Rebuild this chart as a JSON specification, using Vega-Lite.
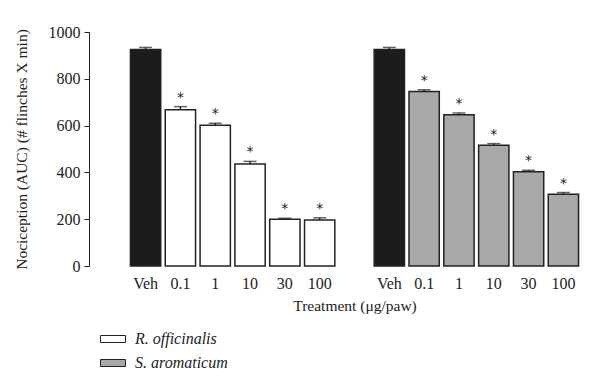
{
  "$schema": "https://vega.github.io/schema/vega-lite/v6.json",
  "width": 469,
  "height": 234,
  "autosize": {"type": "none"},
  "padding": {"left": 120, "top": 32, "right": 11, "bottom": 125},
  "background": "white",
  "config": {
    "view": {"stroke": null},
    "font": "Liberation Serif",
    "axis": {"labelFont": "Liberation Serif", "titleFont": "Liberation Serif", "labelColor": "#222", "titleColor": "#222", "titleFontWeight": "normal", "labelFontSize": 16, "titleFontSize": 15.5},
    "legend": {"labelFont": "Liberation Serif", "labelColor": "#222"}
  },
  "data": {
    "values": [
      {"key": "R|Veh", "series": "Veh", "value": 925, "hi": 934, "sig": ""},
      {"key": "R|0.1", "series": "R. officinalis", "value": 668, "hi": 681, "sig": "*"},
      {"key": "R|1", "series": "R. officinalis", "value": 602, "hi": 610, "sig": "*"},
      {"key": "R|10", "series": "R. officinalis", "value": 436, "hi": 447, "sig": "*"},
      {"key": "R|30", "series": "R. officinalis", "value": 200, "hi": 204, "sig": "*"},
      {"key": "R|100", "series": "R. officinalis", "value": 197, "hi": 206, "sig": "*"},
      {"key": "S|Veh", "series": "Veh", "value": 925, "hi": 934, "sig": ""},
      {"key": "S|0.1", "series": "S. aromaticum", "value": 746, "hi": 753, "sig": "*"},
      {"key": "S|1", "series": "S. aromaticum", "value": 646, "hi": 654, "sig": "*"},
      {"key": "S|10", "series": "S. aromaticum", "value": 516, "hi": 523, "sig": "*"},
      {"key": "S|30", "series": "S. aromaticum", "value": 403, "hi": 409, "sig": "*"},
      {"key": "S|100", "series": "S. aromaticum", "value": 307, "hi": 314, "sig": "*"}
    ]
  },
  "encoding": {
    "x": {
      "field": "key",
      "type": "nominal",
      "scale": {
        "domain": ["R|Veh", "R|0.1", "R|1", "R|10", "R|30", "R|100", "gap", "S|Veh", "S|0.1", "S|1", "S|10", "S|30", "S|100"],
        "paddingInner": 0.13,
        "paddingOuter": 0.3
      },
      "axis": {
        "title": "Treatment (μg/paw)",
        "labelAngle": 0,
        "domain": false,
        "ticks": false,
        "labelPadding": 9,
        "titlePadding": 7,
        "labelExpr": "datum.value == 'gap' ? '' : split(datum.value, '|')[1]"
      }
    }
  },
  "layer": [
    {
      "mark": {"type": "bar", "stroke": "#222", "strokeWidth": 1.5},
      "encoding": {
        "y": {
          "field": "value",
          "type": "quantitative",
          "scale": {"domain": [0, 1000]},
          "axis": {
            "title": "Nociception (AUC) (# flinches X min)",
            "values": [0, 200, 400, 600, 800, 1000],
            "format": "d",
            "grid": false,
            "offset": 31,
            "tickSize": 5,
            "tickColor": "#222",
            "domainColor": "#222",
            "labelPadding": 4,
            "titlePadding": 19
          }
        },
        "fill": {
          "field": "series",
          "type": "nominal",
          "scale": {"domain": ["R. officinalis", "S. aromaticum", "Veh"], "range": ["#ffffff", "#a8a8a8", "#1c1c1c"]},
          "legend": {
            "values": ["R. officinalis", "S. aromaticum"],
            "title": null,
            "orient": "none",
            "legendX": -20,
            "legendY": 294,
            "direction": "vertical",
            "symbolType": "M-1,-0.28H1V0.28H-1Z",
            "symbolSize": 625,
            "symbolStrokeColor": "#222",
            "symbolStrokeWidth": 1,
            "labelFontStyle": "italic",
            "labelFontSize": 16,
            "labelOffset": 9,
            "rowPadding": 3
          }
        }
      }
    },
    {
      "mark": {"type": "rule", "color": "#222", "strokeWidth": 1.5},
      "encoding": {
        "y": {"field": "value", "type": "quantitative"},
        "y2": {"field": "hi"}
      }
    },
    {
      "mark": {"type": "tick", "color": "#222", "thickness": 1.5, "size": 13},
      "encoding": {
        "y": {"field": "hi", "type": "quantitative"}
      }
    },
    {
      "mark": {"type": "text", "fill": "#222", "fontSize": 14, "dy": -2, "baseline": "bottom", "font": "DejaVu Sans"},
      "encoding": {
        "y": {"field": "hi", "type": "quantitative"},
        "text": {"field": "sig"}
      }
    }
  ]
}
